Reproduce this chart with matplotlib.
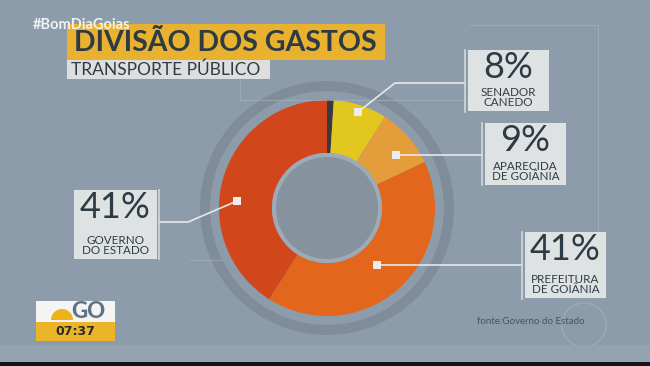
"""Divisão dos gastos - transporte público (donut, TV graphic style)."""
import matplotlib
matplotlib.use("Agg")
import matplotlib.pyplot as plt
from matplotlib.patches import Rectangle, Circle, Wedge

W, H = 650, 366

# data, clockwise from the top
labels = ["", "SENADOR\nCANEDO", "APARECIDA\nDE GOIÂNIA", "PREFEITURA\nDE GOIÂNIA", "GOVERNO\nDO ESTADO"]
values = [1, 8, 9, 41, 41]
pct_text = ["", "8%", "9%", "41%", "41%"]
colors = ["#3a3a3a", "#e2c81e", "#e59c3a", "#e2661c", "#d1461b"]

BG = "#8d9cab"
DARK = "#2f3b44"
BOX = "#dfe2e3"


def Y(y):
    # screen y (top-down) -> axes y (bottom-up)
    return H - y


fig = plt.figure(figsize=(W / 100, H / 100), dpi=100)
fig.patch.set_facecolor(BG)
ax = fig.add_axes([0, 0, 1, 1])
ax.set_facecolor(BG)

cx, cy = 327, Y(208)

# faint background frame lines
for xs, ys in [((240, 240, 470), (80, 100, 100)), ((190, 222), (260, 260)),
               ((598, 598), (25, 235)), ((470, 598), (25, 25))]:
    ax.plot(xs, [Y(v) for v in ys], color="#a9b6c2", lw=0.8, alpha=0.6)

# outer grey ring
ax.add_patch(Wedge((cx, cy), 127, 0, 360, width=10, facecolor="#7f8d9a", edgecolor="none"))

wedges, _ = ax.pie(values, colors=colors, startangle=90, counterclock=False,
                   center=(cx, cy), radius=108, frame=True,
                   wedgeprops=dict(width=53, edgecolor="none"))

# inner hole
ax.add_patch(Circle((cx, cy), 55, facecolor="#9dabb8", edgecolor="none"))
ax.add_patch(Circle((cx, cy), 51, facecolor="#86939f", edgecolor="none"))

# callouts: marker point, connector path, box
callouts = {
    1: dict(path=[(358, 112), (395, 83), (465, 83)], bar=(465, 50, 112), box=(468, 50, 81, 61)),
    2: dict(path=[(396, 155), (482, 155)], bar=(482, 123, 185), box=(485, 123, 81, 62)),
    3: dict(path=[(377, 265), (522, 265)], bar=(522, 232, 299), box=(525, 232, 81, 66)),
    4: dict(path=[(237, 201), (188, 222), (159, 222)], bar=(159, 190, 259), box=(74, 190, 83, 69)),
}
for i, c in callouts.items():
    xs, ys = zip(*c["path"])
    ax.plot(xs, [Y(v) for v in ys], color="#e6e8ea", lw=1.2, zorder=5)
    mx, my = c["path"][0]
    ax.add_patch(Rectangle((mx - 4, Y(my) - 4), 8, 8, facecolor="#eceeee", edgecolor="none", zorder=6))
    bx, b0, b1 = c["bar"]
    ax.plot([bx, bx], [Y(b0), Y(b1)], color="#d4d9dd", lw=1.2, zorder=5)
    x0, y0, w, h = c["box"]
    ax.add_patch(Rectangle((x0, Y(y0 + h)), w, h, facecolor=BOX, edgecolor="none", zorder=5))
    ax.text(x0 + w / 2, Y(y0 + 1), pct_text[i], ha="center", va="top", fontsize=26,
            family="Lato", weight="normal", color=DARK, zorder=7)
    ax.text(x0 + w / 2, Y(y0 + h - 3), labels[i], ha="center", va="bottom", fontsize=8.4,
            family="Lato", color=DARK, linespacing=0.9, zorder=7)

# title block
ax.add_patch(Rectangle((67, Y(60)), 318, 36, facecolor="#e8b12f", edgecolor="none"))
ax.text(74, Y(43), "DIVISÃO DOS GASTOS", ha="left", va="center", fontsize=20.5,
        family="Lato", weight="bold", color=DARK)
ax.add_patch(Rectangle((67, Y(79)), 203, 19, facecolor="#dcdedf", edgecolor="none"))
ax.text(71, Y(69.5), "TRANSPORTE PÚBLICO", ha="left", va="center", fontsize=12.5,
        family="Lato", weight="normal", color=DARK)
ax.text(33, Y(25), "#BomDiaGoias", ha="left", va="center", fontsize=10.5,
        family="Lato", weight="bold", color="#f2f2f2")

# logo / clock
ax.add_patch(Rectangle((36, Y(322)), 79, 21, facecolor="#f4f4f4", edgecolor="none"))
ax.add_patch(Rectangle((36, Y(341)), 79, 19, facecolor="#ebb52a", edgecolor="none"))
ax.add_patch(Wedge((62, Y(320)), 11, 0, 180, facecolor="#eeb318", edgecolor="none"))
ax.text(88, Y(312), "GO", ha="center", va="center", fontsize=16, family="Lato",
        weight="black", color="#5e7384")
ax.text(75, Y(331.5), "07:37", ha="center", va="center", fontsize=9, family="DejaVu Sans",
        weight="bold", color="#2a2a2a")

# source + watermark
ax.text(477, Y(321), "fonte:Governo do Estado", ha="left", va="center", fontsize=7,
        family="Lato", color="#48545e")
ax.add_patch(Circle((584, Y(325)), 22, facecolor="none", edgecolor="#a7b3be", lw=1, alpha=0.6))

# lower band
ax.add_patch(Rectangle((0, Y(362)), W, 17, facecolor="#95a3b0", edgecolor="none"))
ax.add_patch(Rectangle((0, 0), W, 4, facecolor="#151515", edgecolor="none"))

ax.set_xlim(0, W)
ax.set_ylim(0, H)
ax.set_aspect("auto")
ax.axis("off")

fig.savefig("out.png", dpi=100, facecolor=BG)
